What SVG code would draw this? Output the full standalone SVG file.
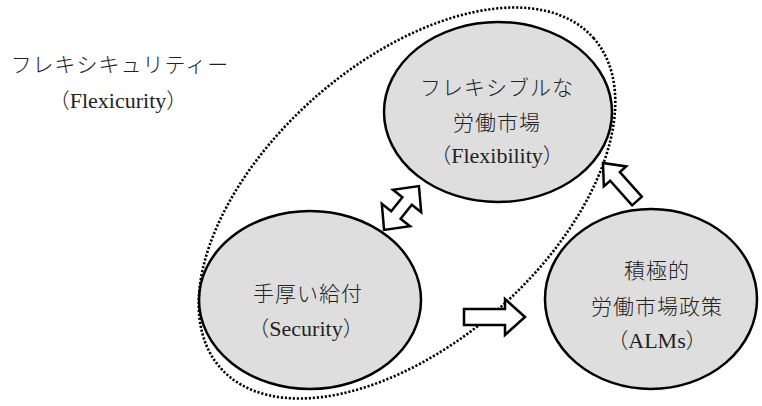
<svg xmlns="http://www.w3.org/2000/svg" width="762" height="406" viewBox="0 0 762 406">
<style>
.node{fill:#dedede;stroke:#000;stroke-width:2.5}
.arrow{fill:#fff;stroke:#000;stroke-width:2.5;stroke-linejoin:miter}
.dot{fill:none;stroke:#000;stroke-width:2.6;stroke-dasharray:2.2 1.8}
text{font-family:"Noto Sans CJK JP",serif;font-size:21px;fill:#222;text-anchor:middle}
.jp{letter-spacing:1px;font-weight:300}
.lat{font-family:"Liberation Serif",serif;font-size:22px}
.par{font-weight:300}
</style>
<rect width="762" height="406" fill="#fff"/>
<g id="title">
<text x="120" y="72" class="jp">フレキシキュリティー</text>
<text x="118" y="108"><tspan class="par">（</tspan><tspan class="lat">Flexicurity</tspan><tspan class="par">）</tspan></text>
</g>
<g id="flexibility">
<ellipse class="node" cx="498" cy="112" rx="114" ry="90"/>
<text x="497" y="95" class="jp">フレキシブルな</text>
<text x="497" y="130" class="jp">労働市場</text>
<text x="497" y="163"><tspan class="par">（</tspan><tspan class="lat">Flexibility</tspan><tspan class="par">）</tspan></text>
</g>
<g id="security">
<ellipse class="node" cx="310" cy="300" rx="111" ry="89"/>
<text x="308" y="301" class="jp">手厚い給付</text>
<text x="306" y="336"><tspan class="par">（</tspan><tspan class="lat">Security</tspan><tspan class="par">）</tspan></text>
</g>
<g id="alms">
<ellipse class="node" cx="651" cy="299" rx="106" ry="90"/>
<text x="657" y="278" class="jp">積極的</text>
<text x="657" y="314" class="jp">労働市場政策</text>
<text x="657" y="348"><tspan class="par">（</tspan><tspan class="lat">ALMs</tspan><tspan class="par">）</tspan></text>
</g>
<g id="flexicurity-boundary">
<ellipse class="dot" cx="407" cy="203" rx="249" ry="140" transform="rotate(-41.5 407 203)"/>
</g>
<g id="connectors">
<polygon class="arrow" transform="translate(401.5 208) rotate(-51.5)" points="-28,0 -9,-18 -9,-6 9,-6 9,-18 28,0 9,18 9,6 -9,6 -9,18"/>
<polygon class="arrow" points="464,309 505,309 505,299 525,317 505,335 505,325 464,325"/>
<polygon class="arrow" transform="translate(637 201) rotate(-131.8)" points="0,-6.5 33,-6.5 33,-15 51,0 33,15 33,6.5 0,6.5"/>
</g>
</svg>
